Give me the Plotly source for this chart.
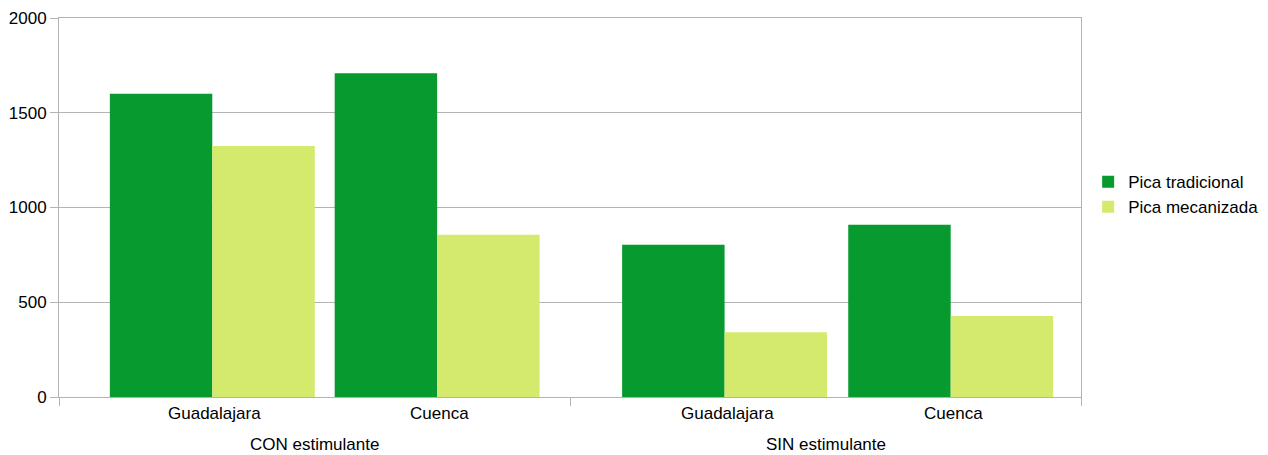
import plotly.graph_objects as go

groups = ["CON estimulante", "SIN estimulante"]
categories = ["Guadalajara", "Cuenca", "Guadalajara", "Cuenca"]
series_names = ["Pica tradicional", "Pica mecanizada"]
pica_tradicional = [1600, 1708, 803, 909]
pica_mecanizada = [1325, 856, 342, 428]
y_ticks = [0, 500, 1000, 1500, 2000]

# layout positions (category centers on a 0..4 numeric axis)
cat_pos = [0.60, 1.48, 2.605, 3.49]
group_center = [1.0, 3.0]
separators = [0, 2, 4]
bar_w = 0.401

DARK = "#079a2e"
LIGHT = "#d4ea6c"
GRID = "#b3b3b3"
FONT = "Liberation Sans, Arial, sans-serif"

fig = go.Figure()
fig.add_trace(go.Bar(x=cat_pos, y=pica_tradicional, name=series_names[0],
                     marker=dict(color=DARK, line=dict(width=0)),
                     width=bar_w, offset=-bar_w))
fig.add_trace(go.Bar(x=cat_pos, y=pica_mecanizada, name=series_names[1],
                     marker=dict(color=LIGHT, line=dict(width=0)),
                     width=bar_w, offset=0))

annotations = []
for c, p in zip(categories, cat_pos):
    annotations.append(dict(x=p + 0.01, y=-0.043, xref="x", yref="paper", text=c,
                            showarrow=False, yanchor="middle", xanchor="center",
                            font=dict(size=17, color="#000000", family=FONT)))
for g, p in zip(groups, group_center):
    annotations.append(dict(x=p, y=-0.125, xref="x", yref="paper", text=g,
                            showarrow=False, yanchor="middle", xanchor="center",
                            font=dict(size=17, color="#000000", family=FONT)))

fig.update_layout(
    width=1268, height=455,
    margin=dict(l=59, r=187, t=18, b=58, autoexpand=False),
    paper_bgcolor="white", plot_bgcolor="white",
    font=dict(family=FONT, size=17, color="#000000"),
    barmode="overlay",
    showlegend=True,
    legend=dict(x=1.007, xanchor="left", y=0.534, yanchor="middle",
                font=dict(size=17, family=FONT), bgcolor="rgba(0,0,0,0)",
                itemwidth=30, tracegroupgap=0),
    annotations=annotations,
    xaxis=dict(range=[0, 4], tickmode="array", tickvals=separators,
               ticktext=["", "", ""], ticks="outside", ticklen=8,
               tickcolor=GRID, showgrid=False, zeroline=False, automargin=False,
               showline=True, linecolor=GRID, linewidth=1, mirror=True),
    yaxis=dict(range=[0, 2000], tickmode="array", tickvals=y_ticks,
               ticks="outside", ticklen=8, tickcolor=GRID, automargin=False,
               showgrid=True, gridcolor=GRID, gridwidth=1, zeroline=False,
               showline=True, linecolor=GRID, linewidth=1, mirror=True,
               tickfont=dict(size=17, family=FONT)),
)

fig.write_html("out.html", config={"displayModeBar": False},
               post_script="document.body.style.margin='0';document.body.style.padding='0';")
